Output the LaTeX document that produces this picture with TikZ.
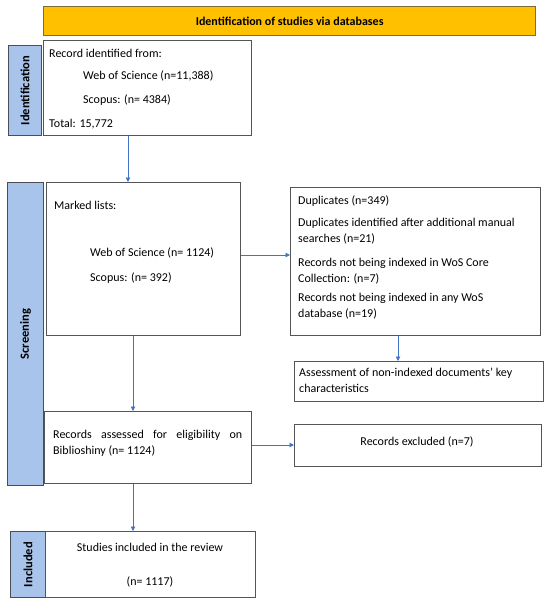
\documentclass[tikz,border=0pt]{standalone}
\usepackage{fontspec}
\setmainfont{Carlito}
\usetikzlibrary{arrows.meta}
\definecolor{titlefill}{HTML}{FFC000}
\definecolor{titledraw}{HTML}{7F6A3A}
\definecolor{labfill}{HTML}{A9C4EA}
\definecolor{labdraw}{HTML}{4A4F57}
\definecolor{boxdraw}{HTML}{555555}
\definecolor{arrblue}{HTML}{4472C4}
\begin{document}
\begin{tikzpicture}[x=1pt,y=-1pt,
  font=\fontsize{12}{16}\selectfont,
  boxstyle/.style={draw=boxdraw,line width=1.3pt,fill=white},
  labstyle/.style={draw=labdraw,line width=1.3pt,fill=labfill},
  titlestyle/.style={draw=titledraw,line width=1.3pt,fill=titlefill},
  txt/.style={inner sep=0pt,anchor=west,align=left},
  labtxt/.style={inner sep=0pt,rotate=90,font=\fontsize{12.5}{14}\selectfont\bfseries},
  arr/.style={draw=arrblue,line width=0.9pt,-{Triangle[length=4.5pt,width=4.5pt]}}
]
\useasboundingbox (0,0) rectangle (550,604);
% title
\node[titlestyle,inner sep=0pt,minimum width=492pt,minimum height=29pt,anchor=north west] (title) at (43,6) {};
\node[inner sep=0pt,font=\fontsize{12}{14}\selectfont\bfseries] (titletxt) at (title.center) {Identification of studies via databases};
% identification
\node[labstyle,inner sep=0pt,minimum width=33pt,minimum height=90pt,anchor=north west] (idlab) at (8,45) {};
\node[labtxt] (idlabtxt) at (idlab.center) {Identification};
\node[boxstyle,inner sep=0pt,minimum width=208pt,minimum height=95pt,anchor=north west] (box1) at (43,40) {};
\node[txt] (b1a) at (49,53) {Record identified from:};
\node[txt] (b1b) at (83,76) {Web of Science (n=11,388)};
\node[txt] (b1c) at (83,100) {Scopus: (n= 4384)};
\node[txt] (b1d) at (49,124) {Total: 15,772};
% screening
\node[labstyle,inner sep=0pt,minimum width=36pt,minimum height=303pt,anchor=north west] (sclab) at (7,182) {};
\node[labtxt] (sclabtxt) at (sclab.center) {Screening};
\node[boxstyle,inner sep=0pt,minimum width=194pt,minimum height=153pt,anchor=north west] (marked) at (46,182) {};
\node[txt] (m1) at (54,205) {Marked lists:};
\node[txt] (m2) at (90,253) {Web of Science (n= 1124)};
\node[txt] (m3) at (90,278) {Scopus: (n= 392)};
\node[boxstyle,inner sep=0pt,minimum width=250pt,minimum height=148pt,anchor=north west] (dup) at (290,187) {};
\node[txt] (d1) at (298,201) {Duplicates (n=349)};
\node[txt] (d2) at (298,231) {Duplicates identified after additional manual\\searches (n=21)};
\node[txt] (d3) at (298,271.5) {Records not being indexed in WoS Core\\Collection: (n=7)};
\node[txt] (d4) at (298,306) {Records not being indexed in any WoS\\database (n=19)};
\node[boxstyle,inner sep=0pt,minimum width=249pt,minimum height=40pt,anchor=north west] (assess) at (294,361) {};
\node[txt] (a1) at (299,380.5) {Assessment of non-indexed documents’ key\\characteristics};
\node[boxstyle,inner sep=0pt,minimum width=207pt,minimum height=72pt,anchor=north west] (elig) at (44,411) {};
\node[txt] (e1) at (53,443) {\makebox[189pt][s]{Records assessed for eligibility on}\\Biblioshiny (n= 1124)};
\node[boxstyle,inner sep=0pt,minimum width=247pt,minimum height=42pt,anchor=north west] (excl) at (294,424) {};
\node[inner sep=0pt] (ex1) at (417,442) {Records excluded (n=7)};
% included
\node[labstyle,inner sep=0pt,minimum width=35pt,minimum height=66pt,anchor=north west] (inlab) at (10,531) {};
\node[labtxt] (inlabtxt) at (inlab.center) {Included};
\node[boxstyle,inner sep=0pt,minimum width=210pt,minimum height=66pt,anchor=north west] (incl) at (45,531) {};
\node[inner sep=0pt] (i1) at (150,547) {Studies included in the review};
\node[inner sep=0pt] (i2) at (150,582) {(n= 1117)};
% arrows
\coordinate (xa) at (128,0);
\coordinate (xb) at (133,0);
\coordinate (ya) at (0,255);
\coordinate (xc) at (398,0);
\coordinate (yb) at (0,445);
\draw[arr] (box1.south -| xa) -- (marked.north -| xa);
\draw[arr] (marked.east |- ya) -- (dup.west |- ya);
\draw[arr] (dup.south -| xc) -- (assess.north -| xc);
\draw[arr] (marked.south -| xb) -- (elig.north -| xb);
\draw[arr] (elig.east |- yb) -- (excl.west |- yb);
\draw[arr] (elig.south -| xb) -- (incl.north -| xb);
\end{tikzpicture}
\end{document}
